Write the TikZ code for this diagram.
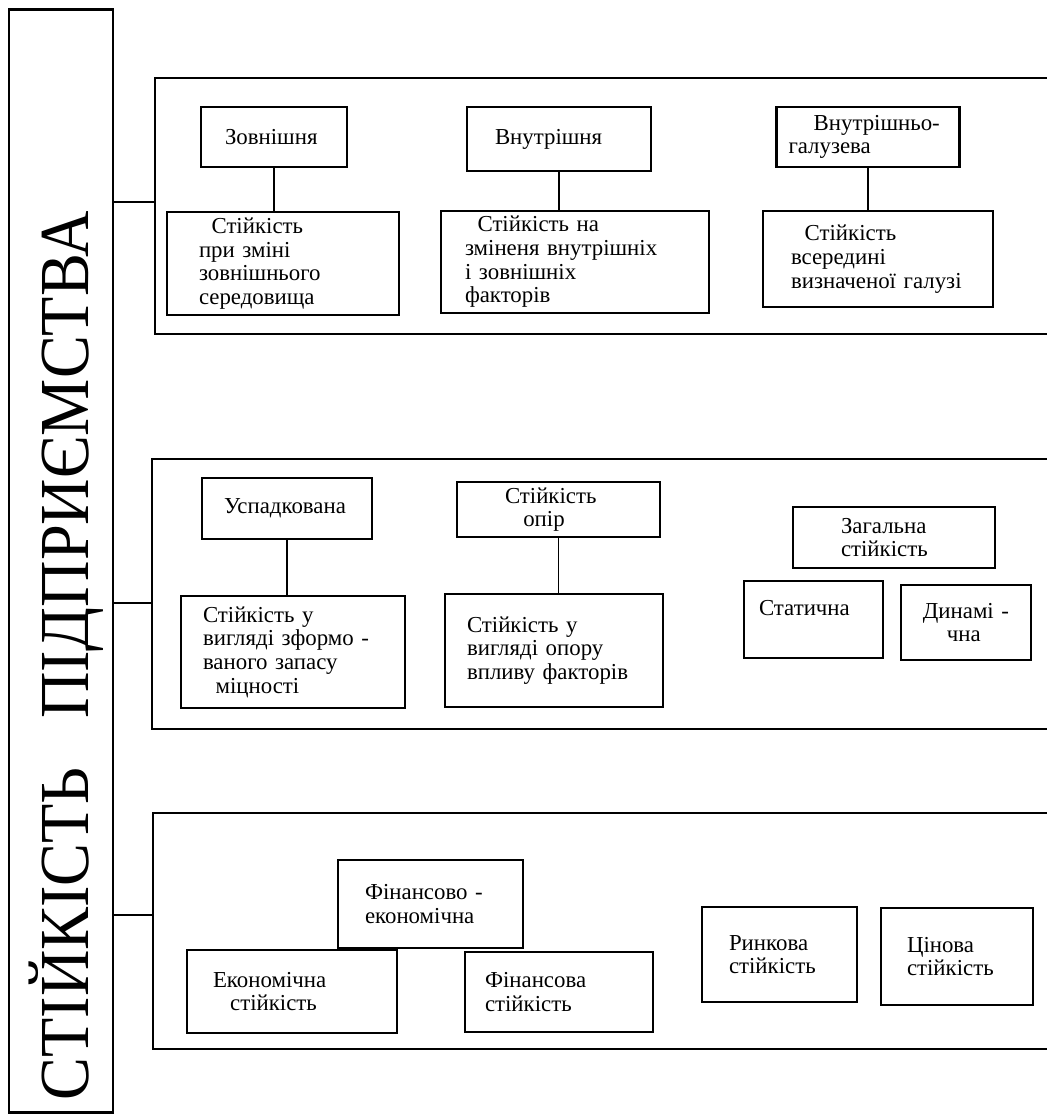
\documentclass[tikz,border=0pt]{standalone}
\usepackage{fontspec}
\setmainfont{Liberation Serif}
\usetikzlibrary{positioning}

\tikzset{
    box/.style={draw, line width=1.5pt, inner ysep=2pt, align=left,
        font=\fontsize{13}{13.5}\selectfont},
    frame/.style={draw, line width=1.5pt, inner sep=0pt},
    link/.style={line width=1.1pt},
}

\begin{document}
\begin{tikzpicture}[x=0.02cm, y=-0.02cm]

    % Page of the reference size
    \useasboundingbox (0,0) rectangle (1047,1115);
    \fill[white] (0,0) rectangle (1047,1115);

    % Title column on the left
    \node[frame, line width=1.3pt, minimum width=104*0.02cm, minimum height=1103*0.02cm] (stab) at (61,561) {};
    \node[rotate=90, anchor=base, font=\fontsize{40}{40}\selectfont] (title) at (88,656)
        {\scalebox{0.915}[1]{СТІЙКІСТЬ\hspace{0.75em}ПІДПРИЄМСТВА}};

    % Three group frames (open to the right)
    \foreach \r/\l/\t/\b in {1/155/78/334, 2/152/459/729, 3/153/813/1049} {
        \node[frame, minimum width={(1050-\l)*0.02cm}, minimum height={(\b-\t)*0.02cm}]
            (row\r) at ({(\l+1050)/2}, {(\t+\b)/2}) {};
    }

    % Links from the title column to the frames
    \foreach \r/\y in {1/202, 2/603, 3/915} {
        \draw[link] (stab.east |- 0,\y) -- (row\r.west |- 0,\y);
    }

    % Boxes: name / x / y / width / height / left pad / text
    \foreach \name/\x/\y/\w/\h/\p/\txt in {
        zovn/274/137/146/60/24/{Зовнішня},
        vnutr/559/139/184/64/28/{Внутрішня},
        galuz/868/137/183/60/12/{\hspace*{1.1em}\mbox{Внутрішньо-}\\галузева},
        zovnSer/283/263.5/232/103/32/{\hspace*{0.55em}Стійкість\\при зміні\\зовнішнього\\середовища},
        zminFact/575/262/268/102/24/{\hspace*{0.55em}Стійкість на\\зміненя внутрішніх\\і зовнішніх\\факторів},
        galuzVyzn/878/259/230/96/28/{\hspace*{0.6em}Стійкість\\всередині\\визначеної галузі},
        uspad/287/508.5/170/61/22/{Успадкована},
        opir/558.5/509.5/203/55/48/{Стійкість\\\hspace*{0.8em}опір},
        zahal/894/537.5/202/61/48/{Загальна\\стійкість},
        zformo/293/652/224/112/22/{Стійкість у\\вигляді зформо -\\ваного запасу\\\hspace*{0.55em}міцності},
        oporu/554/650.5/218/113/22/{Стійкість у\\вигляді опору\\впливу факторів},
        statych/813.5/619.5/139/77/15/{Статична\\\mbox{}},
        dynam/966/622.5/130/75/15/{\hspace*{0.3em}Динамі -\\\hspace*{1.35em}чна},
        finEk/430.5/904/185/88/27/{Фінансово -\\економічна},
        ekon/292/991.5/210/83/26/{Економічна\\\hspace*{0.75em}стійкість},
        finans/559/992/188/80/20/{Фінансова\\стійкість},
        rynk/779.5/954.5/155/95/27/{Ринкова\\стійкість},
        tsin/957/956.5/152/97/26/{Цінова\\стійкість}} {
        \pgfmathsetmacro\tw{(\w-2*\p)*0.02}
        \pgfmathsetmacro\ix{\p*0.02}
        \node[box, text width=\tw cm, inner xsep=\ix cm, minimum width=\w*0.02cm,
            minimum height=\h*0.02cm] (\name) at (\x,\y) {\txt};
    }

    % Vertical links inside the frames
    \foreach \a/\b in {zovn/zovnSer, vnutr/zminFact, galuz/galuzVyzn, uspad/zformo, opir/oporu} {
        \draw[link] (\a.south) -- (\a.south |- \b.north);
    }

\end{tikzpicture}
\end{document}
